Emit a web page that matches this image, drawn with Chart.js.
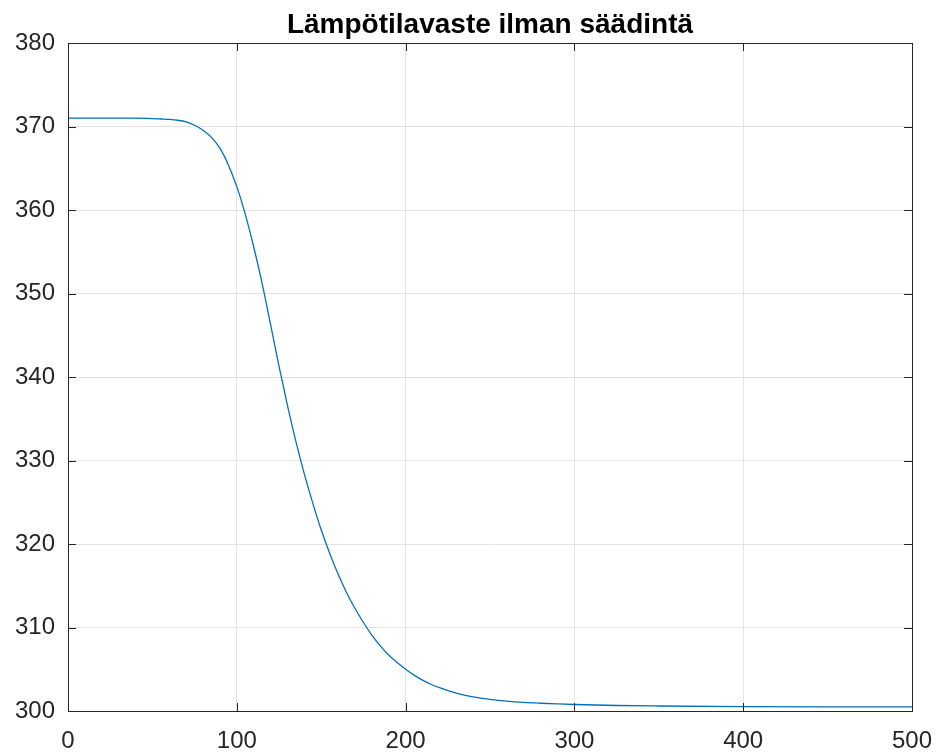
<!DOCTYPE html>
<html>
<head>
<meta charset="utf-8">
<script src="https://cdn.jsdelivr.net/npm/chart.js@4"></script>
<style>
  html, body { margin: 0; padding: 0; background: #fff; }
  #wrap { width: 938px; height: 753px; }
</style>
</head>
<body>
<div id="wrap"><canvas id="tempChart" width="938" height="753"></canvas></div>
<script>
// time axis and temperature response (no controller)
var chartTitle = 'Lämpötilavaste ilman säädintä';
var timeValues = [0, 10, 20, 30, 40, 50, 55, 60, 65, 70, 75, 80, 85, 90, 95, 100, 105, 110, 115, 120, 125, 130, 135, 140, 145, 150, 155, 160, 165, 170, 175, 180, 185, 190, 195, 200, 205, 210, 215, 220, 230, 240, 250, 260, 270, 280, 290, 300, 325, 350, 400, 450, 500];
var tempValues = [371.0, 371.0, 371.0, 371.0, 371.0, 370.95, 370.9, 370.85, 370.75, 370.55, 370.15, 369.55, 368.7, 367.4, 365.4, 362.8, 359.5, 355.6, 351.2, 346.3, 341.3, 336.6, 332.3, 328.4, 324.9, 321.7, 318.9, 316.4, 314.2, 312.3, 310.6, 309.1, 307.8, 306.7, 305.8, 305.0, 304.3, 303.7, 303.2, 302.8, 302.15, 301.7, 301.4, 301.18, 301.03, 300.93, 300.85, 300.78, 300.66, 300.6, 300.53, 300.5, 300.5];
var xTicks = [0, 100, 200, 300, 400, 500];
var yTicks = [300, 310, 320, 330, 340, 350, 360, 370, 380];

var points = timeValues.map(function (t, i) { return {x: t, y: tempValues[i]}; });

var axisColor = '#262626';
var fontFamily = '"Liberation Sans", Arial, Helvetica, sans-serif';

// full box around the axes with inward ticks on all four sides, title centred over the axes
var boxPlugin = {
  id: 'box',
  afterDraw: function (chart) {
    var ctx = chart.ctx, a = chart.chartArea;
    var xs = chart.scales.x, ys = chart.scales.y;
    var len = 8;
    ctx.save();
    ctx.strokeStyle = axisColor;
    ctx.lineWidth = 1;
    ctx.beginPath();
    xTicks.forEach(function (v) {
      var px = Math.round(xs.getPixelForValue(v)) + 0.5;
      ctx.moveTo(px, a.bottom); ctx.lineTo(px, a.bottom - len);
      ctx.moveTo(px, a.top); ctx.lineTo(px, a.top + len);
    });
    yTicks.forEach(function (v) {
      var py = Math.round(ys.getPixelForValue(v)) + 0.5;
      ctx.moveTo(a.left, py); ctx.lineTo(a.left + len, py);
      ctx.moveTo(a.right, py); ctx.lineTo(a.right - len, py);
    });
    ctx.stroke();
    ctx.strokeRect(Math.round(a.left) + 0.5, Math.round(a.top) + 0.5,
                   Math.round(a.right - a.left), Math.round(a.bottom - a.top));

    ctx.fillStyle = '#000';
    ctx.font = 'bold 28px ' + fontFamily;
    ctx.textAlign = 'center';
    ctx.textBaseline = 'alphabetic';
    ctx.fillText(chartTitle, (a.left + a.right) / 2, a.top - 10);
    ctx.restore();
  }
};

new Chart('tempChart', {
  type: 'line',
  data: {
    datasets: [{
      data: points,
      borderColor: '#0072BD',
      borderWidth: 1.3,
      pointRadius: 0,
      fill: false,
      cubicInterpolationMode: 'monotone'
    }]
  },
  options: {
    responsive: false,
    animation: false,
    layout: { padding: { left: 0, right: 26, top: 43, bottom: 0 } },
    plugins: {
      legend: { display: false },
      tooltip: { enabled: false },
      title: { display: false }
    },
    scales: {
      x: {
        type: 'linear',
        min: 0,
        max: 500,
        afterBuildTicks: function (s) { s.ticks = xTicks.map(function (v) { return {value: v}; }); },
        afterFit: function (s) { s.height = 42; s.paddingLeft = 0; s.paddingRight = 0; },
        grid: { color: '#e3e3e3', drawTicks: false },
        border: { color: axisColor },
        ticks: {
          color: axisColor,
          padding: 16,
          maxRotation: 0,
          font: { family: fontFamily, size: 24 }
        }
      },
      y: {
        min: 300,
        max: 380,
        afterBuildTicks: function (s) { s.ticks = yTicks.map(function (v) { return {value: v}; }); },
        afterFit: function (s) { s.width = 68; s.paddingTop = 0; s.paddingBottom = 0; },
        grid: { color: '#e3e3e3', drawTicks: false },
        border: { color: axisColor },
        ticks: {
          color: axisColor,
          padding: 13,
          font: { family: fontFamily, size: 24 }
        }
      }
    }
  },
  plugins: [boxPlugin]
});
</script>
</body>
</html>
